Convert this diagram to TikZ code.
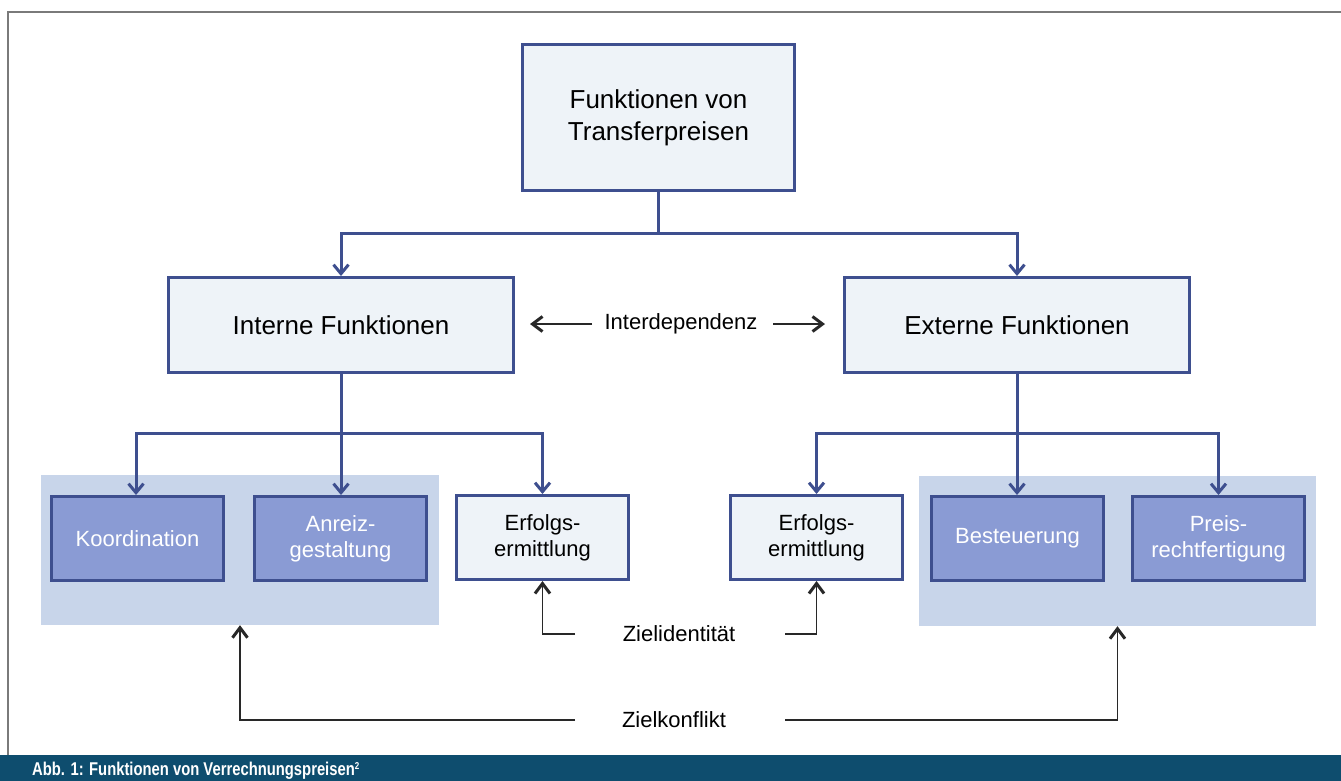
\documentclass[tikz,border=0pt]{standalone}
\usepackage{fontspec}
\setmainfont{Liberation Sans}
\newfontfamily\capfont[FakeStretch=0.8]{Liberation Sans Bold}
\usetikzlibrary{arrows.meta}

\definecolor{boxblue}{RGB}{62,79,143}
\definecolor{lightfill}{RGB}{238,243,248}
\definecolor{midfill}{RGB}{138,155,212}
\definecolor{groupfill}{RGB}{200,213,234}
\definecolor{banner}{RGB}{14,77,110}
\definecolor{frameline}{RGB}{122,122,122}
\definecolor{darkline}{RGB}{40,40,40}

\tikzset{
  lightbox/.style={draw=boxblue, line width=3pt, fill=lightfill, align=center,
    inner sep=0pt},
  midbox/.style={draw=boxblue, line width=3pt, fill=midfill, text=white,
    align=center, inner sep=0pt, minimum width=172pt, minimum height=84pt,
    font=\fontsize{22}{26}\selectfont},
  smallbox/.style={lightbox, minimum width=172pt, minimum height=84pt,
    font=\fontsize{22}{26}\selectfont},
  groupbg/.style={fill=groupfill, draw=none, inner sep=0pt},
  label/.style={inner sep=0pt, font=\fontsize{22}{26}\selectfont},
  tree/.style={draw=boxblue, line width=3pt,
    -{Straight Barb[length=9pt, width=15pt, line width=3pt]}},
  link/.style={draw=darkline, line width=1.5pt,
    -{Straight Barb[length=10pt, width=15pt, line width=3pt]}},
}

\begin{document}
\begin{tikzpicture}[x=1pt, y=-1pt]
  \useasboundingbox (0,0) rectangle (1341,780);
  \clip (0,0) rectangle (1341,780);

  % frame and caption banner
  \fill[white] (0,0) rectangle (1341,780);
  \draw[frameline, line width=1.5pt] (8,780) -- (8,12) -- (1345,12);
  \fill[banner] (0,755) rectangle (1341,790);
  \node[anchor=base west, inner sep=0pt, text=white,
        font=\capfont\fontsize{18.5}{22}\selectfont] (caption) at (32,775.5)
        {Abb. 1: Funktionen von Verrechnungspreisen\raisebox{6pt}{\fontsize{10}{10}\selectfont 2}};

  % group backgrounds
  \node[groupbg, minimum width=398pt, minimum height=150pt] (groupL) at (240,550) {};
  \node[groupbg, minimum width=397pt, minimum height=150pt] (groupR) at (1117.5,551) {};

  % top level
  \node[lightbox, minimum width=272pt, minimum height=146pt,
        font=\fontsize{26}{32}\selectfont] (top) at (658.5,117.5)
        {Funktionen von\\Transferpreisen};

  % second level
  \node[lightbox, minimum width=345pt, minimum height=95pt,
        font=\fontsize{26}{32}\selectfont] (interne) at (341,325) {Interne Funktionen};
  \node[lightbox, minimum width=345pt, minimum height=95pt,
        font=\fontsize{26}{32}\selectfont] (externe) at (1017,325) {Externe Funktionen};

  % third level
  \node[midbox] (koord) at (137.5,538.5) {Koordination};
  \node[midbox] (anreiz) at (340.5,538.5) {Anreiz-\\gestaltung};
  \node[smallbox] (erfL) at (542.5,537.5) {Erfolgs-\\ermittlung};
  \node[smallbox] (erfR) at (816.5,537.5) {Erfolgs-\\ermittlung};
  \node[midbox] (best) at (1017.5,538.5) {Besteuerung};
  \node[midbox] (preis) at (1218.5,538.5) {Preis-\\rechtfertigung};

  % tree connectors
  \coordinate (j1) at (658.5,233);
  \draw[tree] (top.south) -- (j1) -| (interne.north);
  \draw[tree] (j1) -| (externe.north);

  \coordinate (j2) at (341,433);
  \draw[tree] (interne.south) -- (j2) -| ([xshift=-1.5pt]koord.north);
  \draw[tree] (j2) -| (erfL.north);
  \draw[tree] (j2) -- (j2 |- anreiz.north);

  \coordinate (j3) at (1017,433);
  \draw[tree] (externe.south) -- (j3) -| (erfR.north);
  \draw[tree] (j3) -| (preis.north);
  \draw[tree] (j3) -- (j3 |- best.north);

  % relation labels
  \node[label] (inter) at (681,324) {Interdependenz};
  \coordinate (interL1) at (592,324);
  \coordinate (interL2) at (530,324);
  \coordinate (interR1) at (773,324);
  \coordinate (interR2) at (825,324);
  \draw[link] (interL1) -- (interL2);
  \draw[link] (interR1) -- (interR2);

  \node[label] (zid) at (679,634) {Zielidentität};
  \coordinate (zidL) at (575,634);
  \coordinate (zidR) at (785,634);
  \draw[link] (zidL) -| (erfL.south);
  \draw[link] (zidR) -| (erfR.south);

  \node[label] (zk) at (674,720) {Zielkonflikt};
  \coordinate (zkL) at (575,720);
  \coordinate (zkR) at (785,720);
  \draw[link] (zkL) -| (groupL.south);
  \draw[link] (zkR) -| (groupR.south);
\end{tikzpicture}
\end{document}
